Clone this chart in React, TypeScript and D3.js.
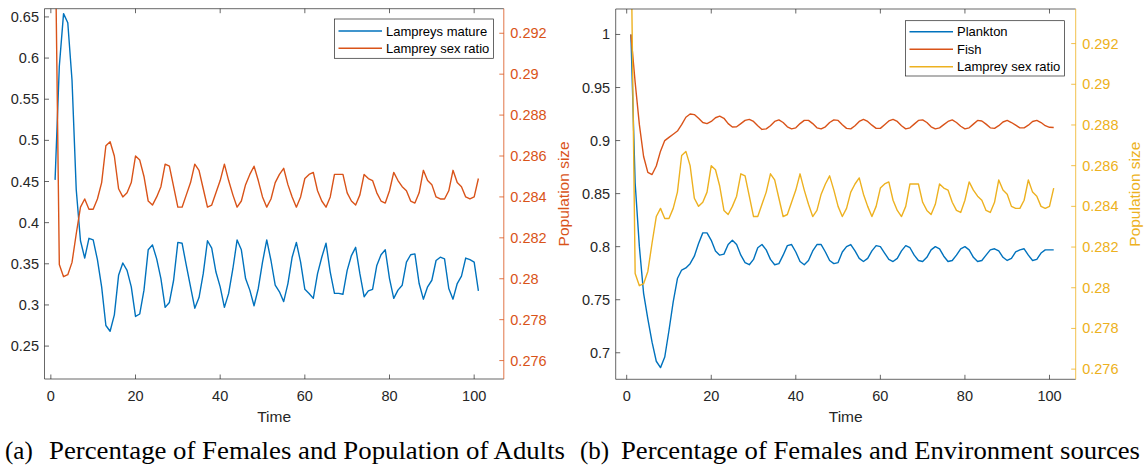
import React from "react";
import * as d3 from "d3";

// ---------- data ----------
const time: number[] = d3.range(1, 102);

const lampreysMature: number[] = [
  0.452, 0.59, 0.654, 0.643, 0.573, 0.44, 0.378, 0.357, 0.381, 0.379,
  0.355, 0.322, 0.275, 0.268, 0.288, 0.336, 0.351, 0.342, 0.322, 0.286,
  0.289, 0.318, 0.367, 0.373, 0.356, 0.332, 0.297, 0.303, 0.33, 0.376,
  0.375, 0.348, 0.322, 0.296, 0.309, 0.338, 0.378, 0.369, 0.34, 0.322,
  0.297, 0.314, 0.344, 0.379, 0.367, 0.332, 0.318, 0.299, 0.32, 0.352,
  0.379, 0.354, 0.324, 0.316, 0.304, 0.326, 0.358, 0.376, 0.352, 0.319,
  0.314, 0.308, 0.338, 0.358, 0.375, 0.34, 0.314, 0.314, 0.313, 0.342,
  0.36, 0.37, 0.338, 0.31, 0.317, 0.319, 0.348, 0.361, 0.367, 0.332,
  0.308, 0.318, 0.324, 0.352, 0.361, 0.362, 0.326, 0.307, 0.322, 0.33,
  0.354, 0.358, 0.356, 0.32, 0.307, 0.326, 0.335, 0.357, 0.355, 0.352,
  0.317,
];

const lampreySexRatio: number[] = [
  0.2975, 0.2807, 0.2801, 0.2802, 0.2808, 0.2822, 0.2835, 0.2839, 0.2834, 0.2834,
  0.2839, 0.2847, 0.2865, 0.2867, 0.286, 0.2844, 0.284, 0.2842, 0.2847, 0.286,
  0.2858, 0.285, 0.2838, 0.2836, 0.284, 0.2845, 0.2856, 0.2855, 0.2845, 0.2835,
  0.2835, 0.2841, 0.2847, 0.2856, 0.2853, 0.2844, 0.2835, 0.2836, 0.2842, 0.2848,
  0.2856, 0.2848, 0.2841, 0.2835, 0.2838, 0.2846, 0.2851, 0.2855, 0.2848, 0.284,
  0.2835, 0.2839, 0.2847, 0.2851, 0.2854, 0.2846, 0.284, 0.2835, 0.284, 0.2849,
  0.2851, 0.2852, 0.2843, 0.2838, 0.2835, 0.284, 0.2851, 0.2851, 0.2851, 0.2842,
  0.2838, 0.2836, 0.2841, 0.2851, 0.2849, 0.2848, 0.2842, 0.2838, 0.2837, 0.2843,
  0.2852, 0.2848, 0.2845, 0.2843, 0.2838, 0.2837, 0.2842, 0.2853, 0.2848, 0.2846,
  0.284, 0.2839, 0.2839, 0.2843, 0.2853, 0.2847, 0.2845, 0.284, 0.2839, 0.284,
  0.2849,
];

const plankton: number[] = [
  1.0, 0.86, 0.8, 0.756, 0.732, 0.71, 0.692, 0.686, 0.696, 0.721,
  0.748, 0.77, 0.778, 0.78, 0.784, 0.791, 0.803, 0.813, 0.813, 0.806,
  0.796, 0.792, 0.793, 0.802, 0.806, 0.802, 0.792, 0.785, 0.783, 0.788,
  0.799, 0.802, 0.797, 0.788, 0.783, 0.784, 0.792, 0.801, 0.802, 0.795,
  0.786, 0.783, 0.787, 0.796, 0.802, 0.802, 0.795, 0.787, 0.784, 0.785,
  0.795, 0.8, 0.802, 0.796, 0.789, 0.786, 0.789, 0.796, 0.801, 0.8,
  0.794, 0.788, 0.786, 0.789, 0.796, 0.801, 0.799, 0.792, 0.787, 0.786,
  0.79, 0.797, 0.8, 0.798, 0.791, 0.786, 0.787, 0.792, 0.798, 0.8,
  0.797, 0.79, 0.786, 0.787, 0.792, 0.797, 0.798, 0.796, 0.79, 0.787,
  0.789, 0.795, 0.797, 0.798, 0.792, 0.787, 0.788, 0.794, 0.797, 0.797,
  0.797,
];

const fish: number[] = [
  1.0, 0.955, 0.915, 0.885, 0.87, 0.868, 0.876, 0.89, 0.9, 0.903,
  0.906, 0.909, 0.915, 0.922, 0.925, 0.9245, 0.921, 0.917, 0.916, 0.918,
  0.9215, 0.923, 0.921, 0.916, 0.9128, 0.913, 0.916, 0.919, 0.92, 0.918,
  0.914, 0.9105, 0.911, 0.914, 0.918, 0.9195, 0.917, 0.913, 0.911, 0.912,
  0.916, 0.919, 0.919, 0.916, 0.912, 0.911, 0.913, 0.917, 0.9195, 0.919,
  0.915, 0.9115, 0.911, 0.914, 0.918, 0.92, 0.918, 0.9145, 0.9115, 0.9115,
  0.915, 0.9185, 0.92, 0.918, 0.914, 0.911, 0.912, 0.9155, 0.919, 0.9195,
  0.917, 0.913, 0.911, 0.912, 0.915, 0.918, 0.9195, 0.917, 0.9135, 0.911,
  0.912, 0.9155, 0.919, 0.9185, 0.9155, 0.912, 0.9115, 0.914, 0.9175, 0.919,
  0.917, 0.9145, 0.912, 0.912, 0.9145, 0.918, 0.919, 0.917, 0.914, 0.9125,
  0.9123,
];

const xTicks: number[] = [0, 20, 40, 60, 80, 100];
const leftTicksA: number[] = [0.25, 0.3, 0.35, 0.4, 0.45, 0.5, 0.55, 0.6, 0.65];
const leftTicksB: number[] = [0.7, 0.75, 0.8, 0.85, 0.9, 0.95, 1];
const rightTicks: number[] = [0.276, 0.278, 0.28, 0.282, 0.284, 0.286, 0.288, 0.29, 0.292];

const BLUE = "#0072BD";
const ORANGE = "#D95319";
const YELLOW = "#EDB120";
const AXIS = "#262626";
const FONT = "'Liberation Sans', Arial, Helvetica, sans-serif";
const SERIF = "'Liberation Serif', 'Times New Roman', serif";

const fmt = (v: number) => String(+v.toFixed(4));

type Series = { values: number[]; color: string; name: string };
type PanelCfg = {
  id: string;
  left: number; right: number; top: number; bottom: number;
  xDom: [number, number]; yLDom: [number, number]; yRDom: [number, number];
  yLTicks: number[]; yRTicks: number[];
  leftSeries: Series[]; rightSeries: Series[];
  rightColor: string;
  legend: { x: number; y: number; w: number; h: number; rows: number[] };
  ylabelX: number;
  capTag: string; capTagX: number; capText: string; capX: number; capLen: number;
};

const panels: PanelCfg[] = [
  {
    id: "a", left: 44.5, right: 503.8, top: 8.7, bottom: 379,
    xDom: [-1.5, 107], yLDom: [0.21, 0.66], yRDom: [0.2751, 0.2932],
    yLTicks: leftTicksA, yRTicks: rightTicks,
    leftSeries: [{ values: lampreysMature, color: BLUE, name: "Lampreys mature" }],
    rightSeries: [{ values: lampreySexRatio, color: ORANGE, name: "Lamprey sex ratio" }],
    rightColor: ORANGE,
    legend: { x: 334.5, y: 19, w: 159, h: 39.3, rows: [31, 48.3] },
    ylabelX: 563,
    capTag: "(a)", capTagX: 5, capText: "Percentage of Females and Population of Adults", capX: 49, capLen: 516,
  },
  {
    id: "b", left: 615.7, right: 1075.7, top: 9, bottom: 379.3,
    xDom: [-2.6, 106.2], yLDom: [0.675, 1.024], yRDom: [0.2755, 0.2937],
    yLTicks: leftTicksB, yRTicks: rightTicks,
    leftSeries: [
      { values: plankton, color: BLUE, name: "Plankton" },
      { values: fish, color: ORANGE, name: "Fish" },
    ],
    rightSeries: [{ values: lampreySexRatio, color: YELLOW, name: "Lamprey sex ratio" }],
    rightColor: YELLOW,
    legend: { x: 905.5, y: 20.7, w: 159, h: 55.3, rows: [31.7, 49.2, 66.7] },
    ylabelX: 1134,
    capTag: "(b)", capTagX: 580, capText: "Percentage of Females and Environment sources", capX: 621, capLen: 519,
  },
];

const TICK = 4.5;

function Panel({ p }: { p: PanelCfg }) {
  const x = d3.scaleLinear().domain(p.xDom).range([p.left, p.right]);
  const yL = d3.scaleLinear().domain(p.yLDom).range([p.bottom, p.top]);
  const yR = d3.scaleLinear().domain(p.yRDom).range([p.bottom, p.top]);
  const lineL = d3.line<number>().x((_, i) => x(time[i])).y((d) => yL(d));
  const lineR = d3.line<number>().x((_, i) => x(time[i])).y((d) => yR(d));
  const clipId = `clip-${p.id}`;
  const allSeries = [...p.leftSeries, ...p.rightSeries];
  const midY = (p.top + p.bottom) / 2;
  const midX = (p.left + p.right) / 2;
  return (
    <g>
      <defs>
        <clipPath id={clipId}>
          <rect x={p.left} y={p.top} width={p.right - p.left} height={p.bottom - p.top} />
        </clipPath>
      </defs>
      {/* data */}
      <g clipPath={`url(#${clipId})`} fill="none" strokeWidth={1.4} strokeLinejoin="round">
        {p.leftSeries.map((s) => (
          <path key={s.name} d={lineL(s.values) || ""} stroke={s.color} />
        ))}
        {p.rightSeries.map((s) => (
          <path key={s.name} d={lineR(s.values) || ""} stroke={s.color} />
        ))}
      </g>
      {/* box: left, bottom, top */}
      <g stroke={AXIS} strokeWidth={0.7} fill="none">
        <line x1={p.left} x2={p.left} y1={p.top} y2={p.bottom} />
        <line x1={p.left} x2={p.right} y1={p.bottom} y2={p.bottom} />
        <line x1={p.left} x2={p.right} y1={p.top} y2={p.top} />
        {xTicks.map((t) => (
          <g key={t}>
            <line x1={x(t)} x2={x(t)} y1={p.bottom} y2={p.bottom - TICK} />
            <line x1={x(t)} x2={x(t)} y1={p.top} y2={p.top + TICK} />
          </g>
        ))}
        {p.yLTicks.map((t) => (
          <line key={t} x1={p.left} x2={p.left + TICK} y1={yL(t)} y2={yL(t)} />
        ))}
      </g>
      {/* right axis */}
      <g stroke={p.rightColor} strokeWidth={0.8}>
        <line x1={p.right} x2={p.right} y1={p.top} y2={p.bottom} />
        {p.yRTicks.map((t) => (
          <line key={t} x1={p.right} x2={p.right - TICK} y1={yR(t)} y2={yR(t)} />
        ))}
      </g>
      {/* tick labels */}
      <g fontFamily={FONT} fontSize={14.5} fill={AXIS}>
        {xTicks.map((t) => (
          <text key={t} x={x(t)} y={p.bottom + 21.5} textAnchor="middle">{fmt(t)}</text>
        ))}
        {p.yLTicks.map((t) => (
          <text key={t} x={p.left - 5.5} y={yL(t)} textAnchor="end" dominantBaseline="central">{fmt(t)}</text>
        ))}
      </g>
      <g fontFamily={FONT} fontSize={14.5} fill={p.rightColor}>
        {p.yRTicks.map((t) => (
          <text key={t} x={p.right + 6.5} y={yR(t)} textAnchor="start" dominantBaseline="central">{fmt(t)}</text>
        ))}
      </g>
      {/* axis labels */}
      <text x={midX} y={p.bottom + 42.5} textAnchor="middle" fontFamily={FONT} fontSize={15.5} fill={AXIS}>Time</text>
      <text
        transform={`translate(${p.ylabelX},${midY}) rotate(-90)`}
        textAnchor="middle" dominantBaseline="central"
        fontFamily={FONT} fontSize={15.5} fill={p.rightColor}
      >Population size</text>
      {/* legend */}
      <rect x={p.legend.x} y={p.legend.y} width={p.legend.w} height={p.legend.h} fill="#fff" stroke={AXIS} strokeWidth={0.7} />
      {allSeries.map((s, i) => (
        <g key={s.name}>
          <line x1={p.legend.x + 4} x2={p.legend.x + 47.5} y1={p.legend.rows[i]} y2={p.legend.rows[i]} stroke={s.color} strokeWidth={1.4} />
          <text x={p.legend.x + 51.5} y={p.legend.rows[i]} dominantBaseline="central" fontFamily={FONT} fontSize={13} fill="#000">{s.name}</text>
        </g>
      ))}
      {/* caption */}
      <text x={p.capTagX} y={459} fontFamily={SERIF} fontSize={25} fill="#000">{p.capTag}</text>
      <text x={p.capX} y={459} fontFamily={SERIF} fontSize={25} fill="#000" textLength={p.capLen} lengthAdjust="spacingAndGlyphs">{p.capText}</text>
    </g>
  );
}

export default function App() {
  return (
    <svg width={1147} height={471} viewBox="0 0 1147 471"
      style={{ position: "absolute", left: 0, top: 0, background: "#fff", display: "block" }}>
      <rect x={0} y={0} width={1147} height={471} fill="#fff" />
      {panels.map((p) => (
        <Panel key={p.id} p={p} />
      ))}
    </svg>
  );
}
